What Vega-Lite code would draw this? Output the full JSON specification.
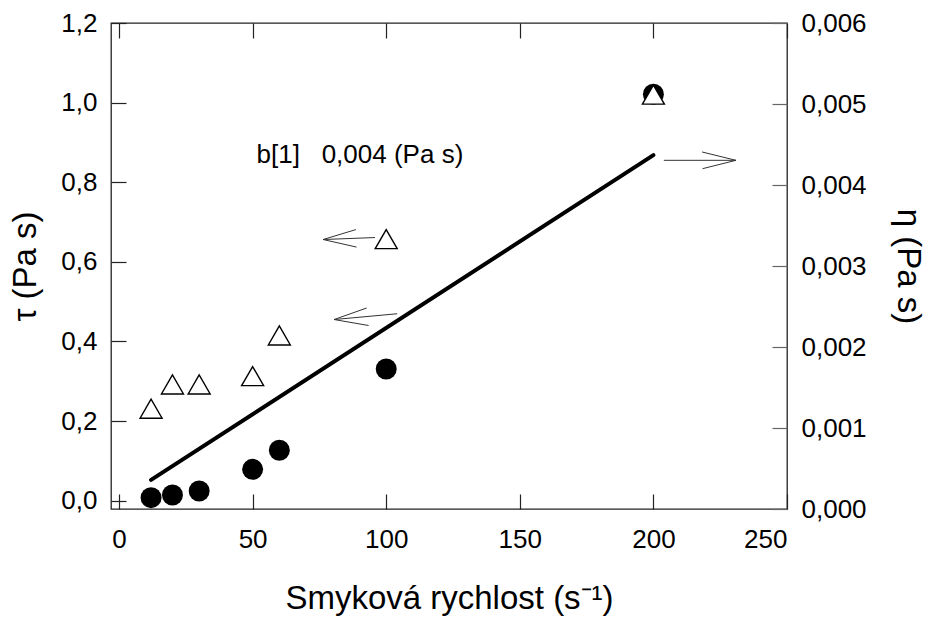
{
  "$schema": "https://vega.github.io/schema/vega-lite/v6.json",
  "width": 676,
  "height": 486,
  "autosize": "none",
  "padding": {"left": 111, "top": 23, "right": 143, "bottom": 110},
  "background": "white",
  "config": {
    "view": {"stroke": "#222", "strokeWidth": 1.3},
    "font": "Liberation Sans",
    "axis": {
      "domain": false,
      "grid": false,
      "labelFont": "Liberation Sans",
      "titleFont": "Liberation Sans",
      "labelColor": "black",
      "titleColor": "black",
      "titleFontWeight": "normal",
      "tickColor": "#222",
      "tickWidth": 1.2,
      "labelFontSize": 26,
      "titleFontSize": 33
    }
  },
  "datasets": {
    "tau": [
      {"rate": 12, "tau": 0.231},
      {"rate": 20, "tau": 0.292},
      {"rate": 30, "tau": 0.292},
      {"rate": 50, "tau": 0.313},
      {"rate": 60, "tau": 0.415},
      {"rate": 100, "tau": 0.657},
      {"rate": 200, "tau": 1.02}
    ],
    "eta": [
      {"rate": 12, "eta": 0.00014},
      {"rate": 20, "eta": 0.000173},
      {"rate": 30, "eta": 0.000222},
      {"rate": 50, "eta": 0.00049},
      {"rate": 60, "eta": 0.000725},
      {"rate": 100, "eta": 0.001728},
      {"rate": 200, "eta": 0.00512}
    ],
    "fit": [
      {"rate": 12, "tau": 0.052},
      {"rate": 200, "tau": 0.868}
    ],
    "arrows": [
      {"x": 95.8, "y": 0.661, "x2": 76.4, "y2": 0.656},
      {"x": 76.4, "y": 0.656, "x2": 88.65, "y2": 0.681},
      {"x": 76.4, "y": 0.656, "x2": 88.9, "y2": 0.637},
      {"x": 104.1, "y": 0.4695, "x2": 80.5, "y2": 0.455},
      {"x": 80.5, "y": 0.455, "x2": 92.7, "y2": 0.484},
      {"x": 80.5, "y": 0.455, "x2": 93.4, "y2": 0.44},
      {"x": 203.9, "y": 0.855, "x2": 230.9, "y2": 0.855},
      {"x": 230.9, "y": 0.855, "x2": 218.2, "y2": 0.876},
      {"x": 230.9, "y": 0.855, "x2": 218.4, "y2": 0.834}
    ],
    "label": [
      {"rate": 51.5, "tau": 0.8675, "text": "b[1]\u00a0\u00a0 0,004 (Pa s)"}
    ]
  },
  "resolve": {
    "scale": {"y": "independent"},
    "axis": {"x": "independent", "y": "independent"}
  },
  "layer": [
    {
      "data": {"name": "eta"},
      "mark": {"type": "point", "shape": "circle", "filled": true, "color": "black", "size": 440, "opacity": 1},
      "encoding": {
        "x": {
          "field": "rate", "type": "quantitative",
          "scale": {"domain": [-3, 250], "nice": false, "zero": false},
          "axis": {"orient": "top", "values": [0, 50, 100, 150, 200, 250], "tickSize": -15, "labels": false, "title": null}
        },
        "y": {
          "field": "eta", "type": "quantitative",
          "scale": {"domain": [0, 0.006], "nice": false, "zero": false},
          "axis": {
            "orient": "right",
            "values": [0, 0.001, 0.002, 0.003, 0.004, 0.005, 0.006],
            "tickSize": -15,
            "tickColor": "#666",
            "labelPadding": 29,
            "labelAlign": "left",
            "labelExpr": "replace(format(datum.value, '.3f'), '.', ',')",
            "title": "η (Pa s)",
            "titlePadding": 24
          }
        }
      }
    },
    {
      "layer": [
        {
          "data": {"name": "fit"},
          "mark": {"type": "line", "color": "black", "strokeWidth": 4, "strokeCap": "round"},
          "encoding": {
            "x": {
              "field": "rate", "type": "quantitative",
              "scale": {"domain": [-3, 250], "nice": false, "zero": false},
              "axis": {
                "orient": "bottom",
                "values": [0, 50, 100, 150, 200, 250],
                "tickSize": -15,
                "labelPadding": 32,
                "title": "Smyková rychlost (s⁻¹)",
                "titlePadding": 30
              }
            },
            "y": {
              "field": "tau", "type": "quantitative",
              "scale": {"domain": [-0.021, 1.2], "nice": false, "zero": false},
              "axis": {
                "orient": "left",
                "values": [0, 0.2, 0.4, 0.6, 0.8, 1.0, 1.2],
                "tickSize": -15,
                "labelPadding": 29,
                "labelExpr": "replace(format(datum.value, '.1f'), '.', ',')",
                "title": "τ (Pa s)",
                "titlePadding": 18
              }
            }
          }
        },
        {
          "data": {"name": "arrows"},
          "mark": {"type": "rule", "color": "#333", "strokeWidth": 1},
          "encoding": {
            "x": {"field": "x", "type": "quantitative"},
            "y": {"field": "y", "type": "quantitative"},
            "x2": {"field": "x2"},
            "y2": {"field": "y2"}
          }
        },
        {
          "data": {"name": "tau"},
          "mark": {"type": "point", "shape": "triangle-up", "filled": true, "fill": "white", "stroke": "black", "strokeWidth": 1.4, "size": 484, "opacity": 1},
          "encoding": {
            "x": {"field": "rate", "type": "quantitative"},
            "y": {"field": "tau", "type": "quantitative"}
          }
        },
        {
          "data": {"name": "label"},
          "mark": {"type": "text", "align": "left", "baseline": "middle", "fontSize": 26, "font": "Liberation Sans", "color": "black"},
          "encoding": {
            "x": {"field": "rate", "type": "quantitative"},
            "y": {"field": "tau", "type": "quantitative"},
            "text": {"field": "text"}
          }
        }
      ]
    }
  ]
}
